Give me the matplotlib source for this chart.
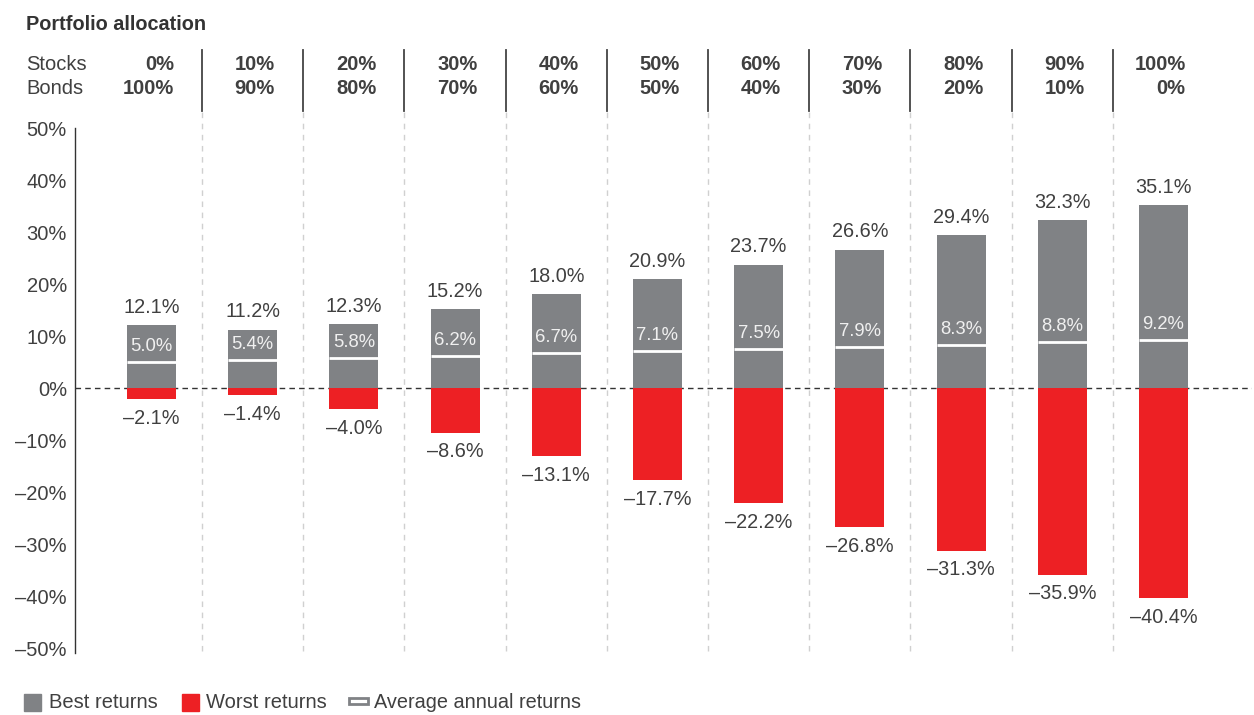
import numpy as np
import matplotlib.pyplot as plt
from matplotlib.patches import Rectangle

plt.rcParams['font.family'] = ['Liberation Sans', 'DejaVu Sans']

# data
stocks = ['0%', '10%', '20%', '30%', '40%', '50%', '60%', '70%', '80%', '90%', '100%']
bonds = ['100%', '90%', '80%', '70%', '60%', '50%', '40%', '30%', '20%', '10%', '0%']
best = [12.1, 11.2, 12.3, 15.2, 18.0, 20.9, 23.7, 26.6, 29.4, 32.3, 35.1]
worst = [-2.1, -1.4, -4.0, -8.6, -13.1, -17.7, -22.2, -26.8, -31.3, -35.9, -40.4]
average = [5.0, 5.4, 5.8, 6.2, 6.7, 7.1, 7.5, 7.9, 8.3, 8.8, 9.2]
yticks = [50, 40, 30, 20, 10, 0, -10, -20, -30, -40, -50]

GRAY = '#808285'
RED = '#ed2024'
TXT = '#404040'

W, H = 1254, 715
fig = plt.figure(figsize=(W / 100, H / 100), dpi=100)

# axes box worked out from the pixel positions of the reference
ax = fig.add_axes([75 / W, 1 - 653.2 / H, (1252 - 75) / W, (653.2 - 122.8) / H])
ax.set_xlim(-0.756, 10.875)
ax.set_ylim(-51, 51)

x = np.arange(len(best))
bw = 0.484

ax.bar(x, best, width=bw, color=GRAY, zorder=2)
ax.bar(x, worst, width=bw, color=RED, zorder=2)
ax.hlines(average, x - bw / 2, x + bw / 2, color='white', lw=2, zorder=3)

for i in range(len(x)):
    ax.annotate('%.1f%%' % best[i], (x[i], best[i]), xytext=(0, 6),
                textcoords='offset points', ha='center', va='bottom',
                fontsize=14.3, color=TXT)
    ax.annotate('\u2013%.1f%%' % abs(worst[i]), (x[i], worst[i]), xytext=(0, -7),
                textcoords='offset points', ha='center', va='top',
                fontsize=14.3, color=TXT)
    ax.annotate('%.1f%%' % average[i], (x[i], average[i]), xytext=(0, 11),
                textcoords='offset points', ha='center', va='center',
                fontsize=13.3, color='#f0f0f0', zorder=4)

# zero line
ax.axhline(0, color='#333333', lw=1, ls=(0, (4, 3)), zorder=1)

# column separators: dashed in the plot, solid in the header
for s in x[:-1] + 0.5:
    ax.plot([s, s], [-50.5, 53.3], color='#d0d0d0', lw=1, ls=(0, (4, 4)),
            clip_on=False, zorder=0)
    ax.plot([s, s], [53.3, 65.0], color='#444444', lw=1.3, clip_on=False)

# header
for i in range(len(x)):
    ax.text(x[i] + 0.22, 62.3, stocks[i], ha='right', va='center',
            fontsize=14.5, fontweight='bold', color=TXT, clip_on=False)
    ax.text(x[i] + 0.22, 57.5, bonds[i], ha='right', va='center',
            fontsize=14.5, fontweight='bold', color=TXT, clip_on=False)

fig.text(26 / W, 1 - 64 / H, 'Stocks', ha='left', va='center', fontsize=14.5, color=TXT)
fig.text(26 / W, 1 - 89 / H, 'Bonds', ha='left', va='center', fontsize=14.5, color=TXT)
fig.text(26 / W, 1 - 24 / H, 'Portfolio allocation', ha='left', va='center',
         fontsize=14.3, fontweight='bold', color='#333333')

# axes styling
for sp in ['top', 'right', 'bottom']:
    ax.spines[sp].set_visible(False)
ax.spines['left'].set_bounds(-51, 50)
ax.spines['left'].set_color('#333333')
ax.spines['left'].set_linewidth(1)
ax.set_xticks([])
ax.set_yticks(yticks)
ax.set_yticklabels([('\u2013%d%%' % -v) if v < 0 else '%d%%' % v for v in yticks])
ax.tick_params(axis='y', length=0, pad=5.8, labelsize=14.5, labelcolor=TXT)

# legend, drawn by hand
ly = 1 - 703 / H
fig.patches.append(Rectangle((24 / W, 1 - 711 / H), 17 / W, 17 / H,
                             transform=fig.transFigure, color=GRAY))
fig.text(49 / W, ly, 'Best returns', ha='left', va='center', fontsize=14.5, color=TXT)
fig.patches.append(Rectangle((182 / W, 1 - 711 / H), 17 / W, 17 / H,
                             transform=fig.transFigure, color=RED))
fig.text(206 / W, ly, 'Worst returns', ha='left', va='center', fontsize=14.5, color=TXT)
fig.patches.append(Rectangle((349 / W, 1 - 704 / H), 19 / W, 6 / H,
                             transform=fig.transFigure, facecolor='white',
                             edgecolor=GRAY, lw=2))
fig.text(374 / W, ly, 'Average annual returns', ha='left', va='center', fontsize=14.3, color=TXT)

fig.savefig('out.png', dpi=100)
